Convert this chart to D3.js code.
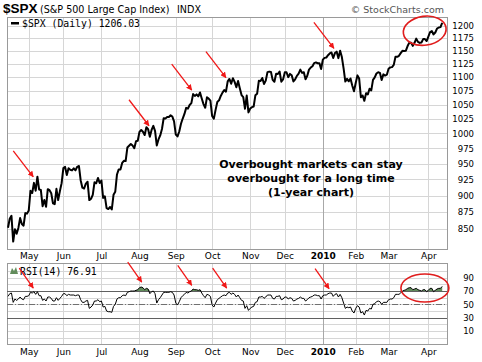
<!DOCTYPE html>
<html>
  <head>
    <meta charset="UTF-8" />
    <script src="https://cdnjs.cloudflare.com/ajax/libs/d3/7.8.5/d3.min.js"></script>
    <style>
      body { margin: 0; background: #fff; }
      text { font-family: "DejaVu Sans", Verdana, sans-serif; fill: #000; }
      .grid line { stroke: #d6d6d6; shape-rendering: crispEdges; }
      .frame { fill: none; stroke: #9a9a9a; shape-rendering: crispEdges; }
      .axis path.domain { display: none; }
      .axis text { font-size: 8.5px; }
      .note { font-size: 11px; font-weight: bold; }
      .arrow { stroke: #f01818; stroke-width: 1.3; }
      .ring { fill: none; stroke: #e01c1c; stroke-width: 1.6; }
    </style>
  </head>
  <body>
    <svg id="chart" width="482" height="362"></svg>
    <script>
      // trading days 15 Apr 2009 .. 14 Apr 2010, index = trading day number
      const months = ["May", "Jun", "Jul", "Aug", "Sep", "Oct", "Nov", "Dec", "2010", "Feb", "Mar", "Apr"];
      const monthStart = [12, 32, 54, 76, 97, 118, 140, 160, 182, 201, 220, 243];
      const priceTicks = [850, 875, 900, 925, 950, 975, 1000, 1025, 1050, 1075, 1100, 1125, 1150, 1175, 1200];
      const rsiTicks = [10, 30, 50, 70, 90];
      const rsiGrid = [0, 10, 20, 30, 40, 50, 60, 70, 80, 90, 100];

      const close = [
        852.1, 865.3, 869.6, 832.4, 850.1, 843.6, 851.9, 866.2, 857.5, 855.2, 873.6, 872.8,
        877.5, 907.2, 903.8, 919.5, 907.4, 929.2, 909.2, 908.4, 883.9, 893.1, 882.9, 909.7,
        908.1, 903.5, 888.3, 887.0, 910.3, 893.1, 906.8, 919.1,
        942.9, 944.7, 931.8, 942.5, 940.1, 939.1, 942.4, 939.2, 944.9, 946.2, 923.7, 912.0,
        910.7, 918.4, 921.2, 893.0, 895.1, 900.9, 920.3, 918.9, 927.2, 919.3,
        923.3, 896.4, 898.7, 881.0, 879.6, 882.7, 879.1, 901.1, 905.8, 932.7, 940.7, 940.4,
        951.1, 954.6, 954.1, 976.3, 979.3, 982.2, 979.6, 975.2, 986.8, 987.5,
        1002.6, 1005.7, 1002.7, 997.1, 1010.5, 1007.1, 994.4, 1005.8, 1012.7, 1004.1, 979.7,
        989.7, 996.5, 1007.4, 1026.1, 1025.6, 1028.0, 1028.1, 1031.0, 1028.9, 1020.6,
        998.0, 994.8, 1003.2, 1016.4, 1025.4, 1033.4, 1044.1, 1042.7, 1049.3, 1052.6, 1068.8,
        1065.5, 1068.3, 1064.7, 1071.7, 1060.9, 1050.8, 1044.4, 1063.0, 1060.6, 1057.1,
        1029.9, 1025.2, 1040.5, 1054.7, 1057.6, 1065.5, 1071.5, 1076.2, 1073.2, 1092.0, 1096.6,
        1087.7, 1097.9, 1091.1, 1081.4, 1092.9, 1079.6, 1067.0, 1063.4, 1042.6, 1066.1, 1036.2,
        1042.9, 1045.4, 1046.5, 1066.6, 1069.3, 1093.1, 1093.0, 1098.5, 1087.2, 1093.5, 1109.3,
        1110.3, 1109.8, 1094.9, 1091.4, 1106.2, 1105.7, 1110.6, 1091.5, 1095.6,
        1108.9, 1109.2, 1099.9, 1106.0, 1103.3, 1091.9, 1096.0, 1102.4, 1106.4, 1114.1, 1107.9,
        1109.2, 1096.1, 1102.5, 1114.1, 1118.0, 1120.6, 1126.5, 1127.8, 1126.2, 1126.4, 1115.1,
        1133.0, 1136.5, 1137.1, 1141.7, 1145.0, 1147.0, 1136.2, 1145.7, 1148.5, 1136.0, 1150.2,
        1138.0, 1116.5, 1091.8, 1096.8, 1092.2, 1097.5, 1084.5, 1073.9,
        1089.2, 1103.3, 1097.3, 1063.1, 1066.2, 1056.7, 1070.5, 1068.1, 1078.5, 1075.5, 1094.9,
        1099.5, 1106.8, 1109.2, 1108.0, 1094.6, 1105.2, 1102.9, 1104.5,
        1115.7, 1118.3, 1118.8, 1123.0, 1138.7, 1138.5, 1140.5, 1145.6, 1150.2, 1150.0, 1150.5,
        1159.5, 1166.2, 1165.8, 1159.9, 1165.8, 1174.2, 1167.7, 1165.7, 1166.6, 1173.2, 1173.3,
        1169.4,
        1178.1, 1187.4, 1189.4, 1182.5, 1186.4, 1194.4, 1196.5, 1197.3, 1206.03
      ];

      const rsi = [
        62, 66, 67, 53, 58, 56, 58, 61, 58, 57, 62, 62,
        63, 68, 67, 69, 65, 69, 63, 63, 56, 58, 55, 61, 61, 59, 55, 55, 60, 56, 59, 62,
        66, 66, 63, 65, 64, 64, 64, 63, 64, 64, 57, 53, 53, 55, 56, 44, 46, 49, 55, 55, 57, 54,
        55, 46, 47, 40, 39, 39, 38, 47, 50, 58, 60, 60, 63, 64, 63, 68, 69, 70, 70, 70, 71, 72,
        75, 76, 75, 72, 74, 73, 66, 69, 70, 66, 52, 57, 60, 64, 68, 68, 68, 68, 69, 68, 64,
        52, 49, 54, 60, 63, 65, 68, 67, 69, 70, 73, 72, 72, 71, 72, 67, 63, 60, 65, 64, 62,
        49, 46, 52, 57, 59, 61, 63, 64, 63, 67, 68, 65, 67, 65, 61, 64, 60, 56, 55, 44, 48, 41,
        44, 46, 47, 53, 54, 61, 61, 62, 59, 61, 64, 64, 64, 59, 58, 62, 62, 63, 57, 58,
        61, 61, 58, 60, 59, 55, 56, 58, 59, 61, 59, 59, 55, 57, 60, 61, 62, 64, 64, 63, 63, 58,
        63, 64, 64, 66, 67, 67, 62, 65, 66, 61, 65, 60, 52, 44, 46, 45, 46, 40, 37,
        44, 48, 46, 37, 39, 34, 41, 40, 44, 43, 50, 51, 54, 55, 54, 50, 53, 53, 53,
        57, 58, 58, 60, 65, 65, 65, 67, 70, 71, 72, 74, 75, 75, 72, 73, 74, 72, 71, 70, 72, 72, 69,
        71, 74, 74, 69, 71, 73, 74, 74, 76.91
      ];

      // annotations in data space: [trading day, value]
      const priceArrowTips = [[14.6, 929], [81.5, 1013], [106.2, 1076], [126, 1099], [188.4, 1155]];
      const rsiArrowTips = [[14.6, 74.5], [77.3, 83.5], [106.2, 78.6], [126.4, 74.5], [185.6, 73.5]];
      const priceRing = [240.9, 1190];
      const rsiRing = [241, 74.5];

      const svg = d3.select("#chart");
      const left = 7, right = 447;
      const top1 = 17, bottom1 = 249, top2 = 263, bottom2 = 344;

      const x = d3.scaleLinear().domain([0, 251]).range([8, 442.2]);
      const yPrice = d3.scaleLog().domain([822, 1218]).range([bottom1, top1]);
      const yRsi = d3.scaleLinear().domain([-9.4, 112]).range([bottom2, top2]);

      svg.append("defs").append("marker")
        .attr("id", "head").attr("viewBox", "0 0 10 10")
        .attr("refX", 9).attr("refY", 5)
        .attr("markerWidth", 6).attr("markerHeight", 6)
        .attr("markerUnits", "userSpaceOnUse")
        .attr("orient", "auto")
        .append("path").attr("d", "M0,0L10,5L0,10z").attr("fill", "#f01818");

      // header
      svg.append("text").attr("x", 3).attr("y", 13)
        .style("font-family", "'Liberation Sans', Arial, sans-serif")
        .style("font-weight", "bold").style("font-size", "13.5px").text("$SPX");
      svg.append("text").attr("x", 40).attr("y", 12.5).style("font-size", "9.6px")
        .text("(S&P 500 Large Cap Index)");
      svg.append("text").attr("x", 177).attr("y", 12.5).style("font-size", "9.6px").text("INDX");
      svg.append("text").attr("x", 444).attr("y", 12.5).attr("text-anchor", "end")
        .style("font-size", "9.5px").style("fill", "#555").text("\u00a9 StockCharts.com");

      function panel(y0, y1, yScale, gridVals) {
        const g = svg.append("g").attr("class", "grid");
        g.selectAll(".h").data(gridVals).join("line")
          .attr("x1", left).attr("x2", right)
          .attr("y1", d => Math.round(yScale(d)) + 0.5).attr("y2", d => Math.round(yScale(d)) + 0.5);
        g.selectAll(".v").data(monthStart).join("line")
          .attr("y1", y0).attr("y2", y1)
          .attr("x1", d => Math.round(x(d)) + 0.5).attr("x2", d => Math.round(x(d)) + 0.5)
          .style("stroke", (d, i) => months[i] === "2010" ? "#a8a8a8" : null);
        svg.append("rect").attr("class", "frame")
          .attr("x", left + 0.5).attr("y", y0 + 0.5)
          .attr("width", right - left).attr("height", y1 - y0);
      }

      function monthAxis(y) {
        const ax = svg.append("g").attr("class", "axis")
          .attr("transform", `translate(0,${y})`)
          .call(d3.axisBottom(x).tickValues(monthStart).tickFormat((d, i) => months[i])
            .tickSize(0).tickPadding(4));
        ax.selectAll("text").style("font-size", "9px")
          .style("font-weight", (d, i) => months[i] === "2010" ? "bold" : null);
      }

      function valueAxis(yScale, ticks) {
        const ax = svg.append("g").attr("class", "axis")
          .attr("transform", `translate(${right},0)`)
          .call(d3.axisRight(yScale).tickValues(ticks).tickFormat(d3.format("d")).tickSize(0));
        ax.selectAll("text").attr("text-anchor", "end").attr("x", 27);
      }

      function arrows(tips, yScale, dx, dy) {
        svg.append("g").selectAll("line").data(tips).join("line")
          .attr("class", "arrow")
          .attr("x1", d => x(d[0]) - dx).attr("y1", d => yScale(d[1]) - dy)
          .attr("x2", d => x(d[0])).attr("y2", d => yScale(d[1]))
          .attr("marker-end", "url(#head)");
      }

      // price panel
      panel(top1, bottom1, yPrice, priceTicks);
      svg.append("path").datum(close)
        .attr("fill", "none").attr("stroke", "#000").attr("stroke-width", 2)
        .attr("stroke-linejoin", "round")
        .attr("d", d3.line().x((d, i) => x(i)).y(d => yPrice(d)));
      valueAxis(yPrice, priceTicks);
      monthAxis(bottom1);

      svg.append("rect").attr("x", 11).attr("y", 22).attr("width", 8).attr("height", 2.5).attr("fill", "#000");
      svg.append("text").attr("x", 22).attr("y", 26.5)
        .style("font-family", "'DejaVu Sans Mono', monospace").style("font-size", "9.8px")
        .text("$SPX (Daily) 1206.03");

      const note = ["Overbought markets can stay", "overbought for a long time", "(1-year chart)"];
      svg.append("g").selectAll("text").data(note).join("text")
        .attr("class", "note").attr("text-anchor", "middle")
        .attr("x", 311).attr("y", (d, i) => 167.5 + i * 14.3).text(d => d);

      arrows(priceArrowTips, yPrice, 20, 26);
      svg.append("ellipse").attr("class", "ring")
        .attr("cx", x(priceRing[0])).attr("cy", yPrice(priceRing[1]))
        .attr("rx", 21.5).attr("ry", 14.5)
        .attr("transform", `rotate(-8,${x(priceRing[0])},${yPrice(priceRing[1])})`);

      // RSI panel
      panel(top2, bottom2, yRsi, rsiGrid);
      svg.append("path").datum(rsi)
        .attr("fill", "#628c5c")
        .attr("d", d3.area().x((d, i) => x(i)).y0(yRsi(70)).y1(d => yRsi(Math.max(d, 70))));
      svg.selectAll(".lvl").data([70, 30]).join("line")
        .attr("x1", left).attr("x2", right)
        .attr("y1", d => Math.round(yRsi(d)) + 0.5).attr("y2", d => Math.round(yRsi(d)) + 0.5)
        .attr("stroke", "#606060").attr("stroke-width", 1.2);
      svg.append("line").attr("x1", left).attr("x2", right)
        .attr("y1", Math.round(yRsi(50)) + 0.5).attr("y2", Math.round(yRsi(50)) + 0.5)
        .attr("stroke", "#707070").attr("stroke-dasharray", "6,2,1,2");
      svg.append("path").datum(rsi)
        .attr("fill", "none").attr("stroke", "#000").attr("stroke-width", 1)
        .attr("d", d3.line().x((d, i) => x(i)).y(d => yRsi(d)));
      valueAxis(yRsi, rsiTicks);
      monthAxis(bottom2 + 1);

      svg.append("path").attr("d", "M10,274L12,268L14,271L16,267L18,274Z").attr("fill", "#628c5c");
      svg.append("text").attr("x", 20).attr("y", 274.5)
        .style("font-family", "'DejaVu Sans Mono', monospace").style("font-size", "9.8px")
        .text("RSI(14) 76.91");

      arrows(rsiArrowTips, yRsi, 14, 20);
      svg.append("ellipse").attr("class", "ring")
        .attr("cx", x(rsiRing[0])).attr("cy", yRsi(rsiRing[1]))
        .attr("rx", 24).attr("ry", 14);
    </script>
  </body>
</html>
